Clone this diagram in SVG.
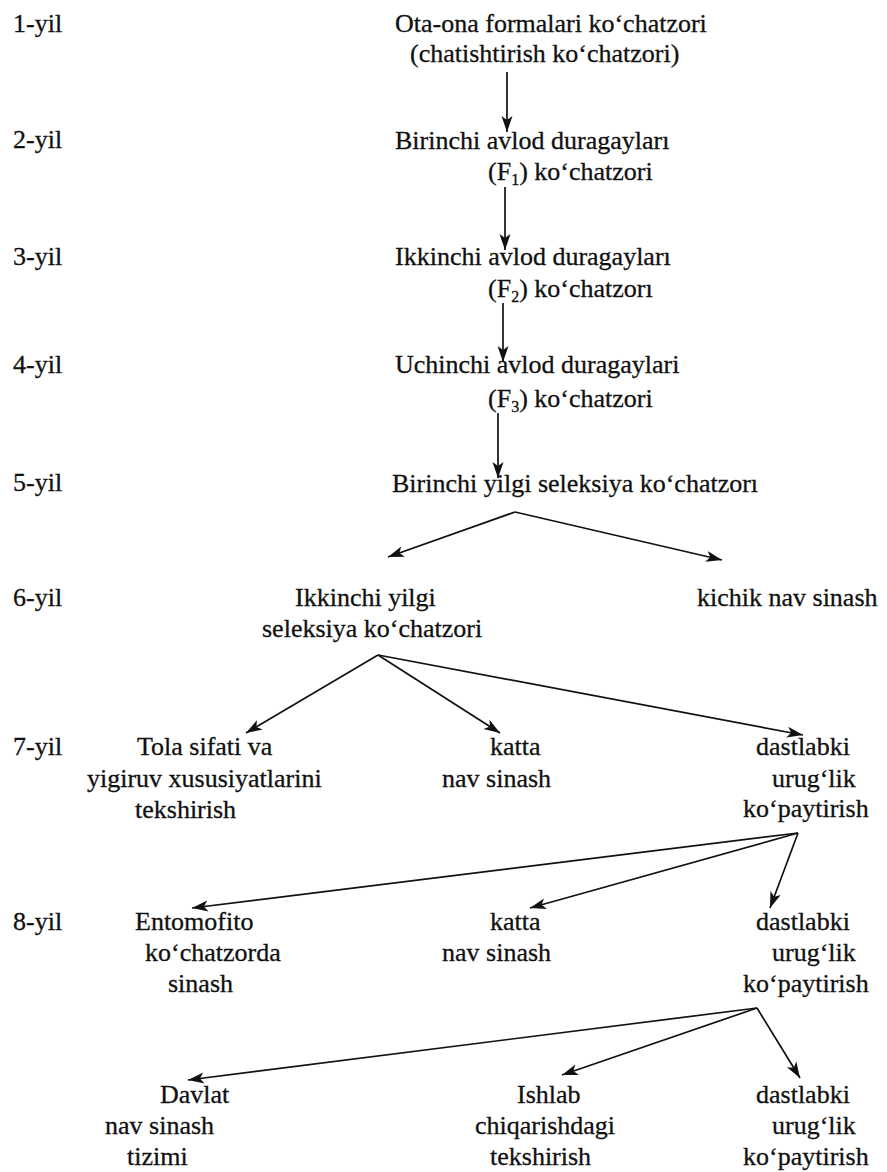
<svg xmlns="http://www.w3.org/2000/svg" width="887" height="1172" viewBox="0 0 887 1172">
<style>
text{font-family:'Liberation Serif','DejaVu Serif',serif;font-size:26px;fill:#111;stroke:#111;stroke-width:0.3}
.sub{font-size:16px}
.c line{stroke:#111;stroke-width:1.7;marker-end:url(#ah)}
</style>
<defs>
<marker id="ah" markerUnits="userSpaceOnUse" markerWidth="18" markerHeight="12" refX="16" refY="6" orient="auto">
<path d="M0,0.5 L16,6 L0,11.5 L4,6 Z" fill="#111"/>
</marker>
</defs>
<rect width="887" height="1172" fill="#fff"/>
<g id="years">
<text x="13" y="32">1-yil</text>
<text x="13" y="148">2-yil</text>
<text x="13" y="265">3-yil</text>
<text x="13" y="373">4-yil</text>
<text x="13" y="491">5-yil</text>
<text x="13" y="606">6-yil</text>
<text x="13" y="755">7-yil</text>
<text x="13" y="930">8-yil</text>
</g>
<g id="n1"><text x="395" y="32">Ota-ona formalari ko‘chatzori</text><text x="410" y="62">(chatishtirish ko‘chatzori)</text></g>
<g id="n2"><text x="395" y="149">Birinchi avlod duragayları</text><text x="488" y="180">(F<tspan class="sub" dy="5">1</tspan><tspan dy="-5">) ko‘chatzori</tspan></text></g>
<g id="n3"><text x="395" y="265">Ikkinchi avlod duragayları</text><text x="488" y="297">(F<tspan class="sub" dy="5">2</tspan><tspan dy="-5">) ko‘chatzorı</tspan></text></g>
<g id="n4"><text x="395" y="373">Uchinchi avlod duragaylari</text><text x="488" y="407">(F<tspan class="sub" dy="5">3</tspan><tspan dy="-5">) ko‘chatzori</tspan></text></g>
<g id="n5"><text x="392" y="492">Birinchi yilgi seleksiya ko‘chatzorı</text></g>
<g id="n6a"><text x="295" y="606">Ikkinchi yilgi</text><text x="262" y="637">seleksiya ko‘chatzori</text></g>
<g id="n6b"><text x="697" y="606">kichik nav sinash</text></g>
<g id="n7a"><text x="137" y="755">Tola sifati va</text><text x="87" y="787">yigiruv xususiyatlarini</text><text x="135" y="818">tekshirish</text></g>
<g id="n7b"><text x="490" y="755">katta</text><text x="442" y="787">nav sinash</text></g>
<g id="n7c"><text x="756" y="755">dastlabki</text><text x="772" y="787">urug‘lik</text><text x="743" y="817">ko‘paytirish</text></g>
<g id="n8a"><text x="135" y="930">Entomofito</text><text x="145" y="961">ko‘chatzorda</text><text x="168" y="992">sinash</text></g>
<g id="n8b"><text x="490" y="930">katta</text><text x="442" y="961">nav sinash</text></g>
<g id="n8c"><text x="756" y="930">dastlabki</text><text x="772" y="961">urug‘lik</text><text x="743" y="992">ko‘paytirish</text></g>
<g id="n9a"><text x="160" y="1103">Davlat</text><text x="105" y="1134">nav sinash</text><text x="127" y="1165">tizimi</text></g>
<g id="n9b"><text x="517" y="1103">Ishlab</text><text x="475" y="1134">chiqarishdagi</text><text x="490" y="1165">tekshirish</text></g>
<g id="n9c"><text x="756" y="1103">dastlabki</text><text x="772" y="1134">urug‘lik</text><text x="743" y="1165">ko‘paytirish</text></g>
<g id="connectors" class="c">
<line x1="507" y1="72" x2="507" y2="132"/>
<line x1="505" y1="187" x2="505" y2="250"/>
<line x1="503" y1="303" x2="503" y2="362"/>
<line x1="498" y1="413" x2="498" y2="478"/>
<line x1="515" y1="512" x2="388" y2="557"/>
<line x1="515" y1="512" x2="722" y2="560"/>
<line x1="378" y1="655" x2="246" y2="733"/>
<line x1="378" y1="655" x2="500" y2="733"/>
<line x1="378" y1="655" x2="803" y2="735"/>
<line x1="798" y1="833" x2="192" y2="908"/>
<line x1="798" y1="833" x2="530" y2="908"/>
<line x1="798" y1="833" x2="770" y2="908"/>
<line x1="757" y1="1008" x2="188" y2="1080"/>
<line x1="757" y1="1008" x2="562" y2="1075"/>
<line x1="757" y1="1008" x2="800" y2="1078"/>
</g>
</svg>
